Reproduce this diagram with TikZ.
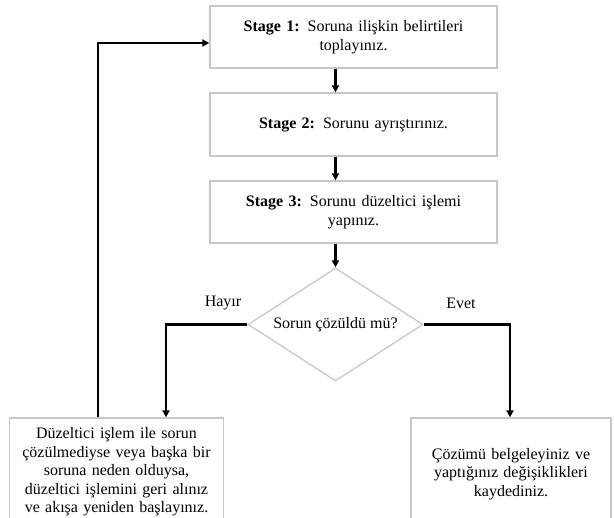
\documentclass[tikz,border=0pt]{standalone}
\usepackage{fontspec}
\setmainfont{Liberation Serif}
\definecolor{boxstroke}{HTML}{C8C8C8}
\usetikzlibrary{arrows.meta, positioning, shapes.geometric}

\begin{document}
\begin{tikzpicture}[x=1pt, y=-1pt,
    >={Triangle[length=7pt, width=7pt]},
    stagebox/.style={draw=boxstroke, line width=1.3pt, rectangle, align=center,
      font=\fontsize{16}{18.5}\selectfont, inner sep=1pt},
    flow/.style={->, line width=2.6pt, black}]
  \useasboundingbox (0,0) rectangle (614,518);
  % stages
  \node[stagebox, minimum width=287pt, minimum height=62pt, text width=280pt] (box1) at (353.5,37)
    {\textbf{Stage 1:} Soruna ilişkin belirtileri\\toplayınız.};
  \node[stagebox, minimum width=287pt, minimum height=63pt, text width=280pt] (box2) at (353.5,124.5)
    {\textbf{Stage 2:} Sorunu ayrıştırınız.};
  \node[stagebox, minimum width=287pt, minimum height=62pt, text width=280pt] (box3) at (353.5,212)
    {\textbf{Stage 3:} Sorunu düzeltici işlemi\\yapınız.};
  % decision
  \node[draw=boxstroke, line width=1.3pt, diamond, aspect=1.55, minimum width=175pt,
    minimum height=113pt, inner sep=0pt, font=\fontsize{16}{18.5}\selectfont] (dec) at (335.5,324.5)
    {Sorun çözüldü mü?};
  % outcomes
  \node[stagebox, minimum width=213pt, minimum height=108pt, text width=212pt] (fix) at (116.5,472)
    {Düzeltici işlem ile sorun\\çözülmediyse veya başka bir\\soruna neden olduysa,\\düzeltici işlemini geri alınız\\ve akışa yeniden başlayınız.};
  \node[stagebox, minimum width=200pt, minimum height=112pt, text width=196pt] (done) at (511,474)
    {Çözümü belgeleyiniz ve\\yaptığınız değişiklikleri\\kaydediniz.};
  % labels
  \node[font=\fontsize{16}{18.5}\selectfont] (no) at (223,303) {Hayır};
  \node[font=\fontsize{16}{18.5}\selectfont] (yes) at (461,303) {Evet};
  % arrows
  \draw[flow] (box1.south -| dec.north) -- (box2.north -| dec.north);
  \draw[flow] (box2.south -| dec.north) -- (box3.north -| dec.north);
  \draw[flow] (box3.south -| dec.north) -- (dec.north);
  \draw[flow] (dec.west) -| ([xshift=49.5pt]fix.north);
  \draw[flow] (dec.east) -| ([xshift=-1pt]done.north);
  \draw[flow] ([xshift=-18.5pt]fix.north) |- ([yshift=-6pt]box1.west);
\end{tikzpicture}
\end{document}
